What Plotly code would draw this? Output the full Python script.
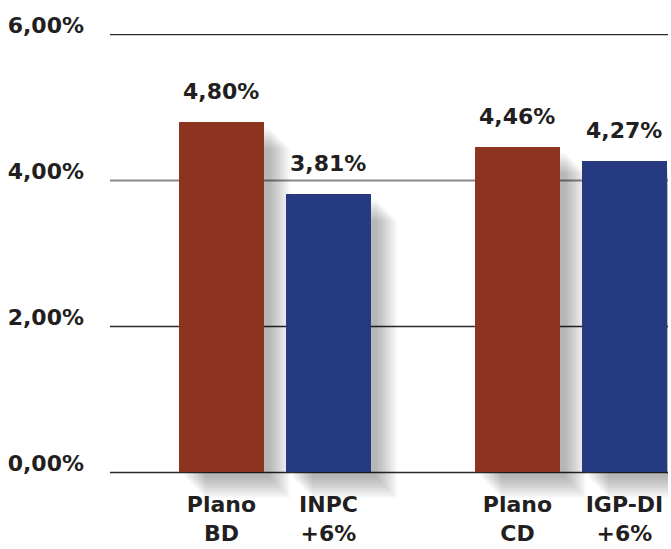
import plotly.graph_objects as go

# ---- data ----
categories = ["Plano<br>BD", "INPC<br>+6%", "Plano<br>CD", "IGP-DI<br>+6%"]
values = [4.80, 3.81, 4.46, 4.27]
value_labels = ["4,80%", "3,81%", "4,46%", "4,27%"]
y_tick_values = [0, 2, 4, 6]
y_tick_labels = ["0,00%", "2,00%", "4,00%", "6,00%"]

RED = "#8c3420"
BLUE = "#263a82"
TEXT = "#231f20"
FONT = "DejaVu Sans"

# layout helpers: two groups of two bars
group = [0, 0, 1, 1]
slot = [0, 1, 0, 1]
GROUP_STEP = 2.766
pos = [g * GROUP_STEP + s for g, s in zip(group, slot)]
colors = [RED if s == 0 else BLUE for s in slot]
BW = 0.794
PX_X = 107.0   # px per x unit
PX_Y = 73.0    # px per y unit

fig = go.Figure()

# soft drop shadows (stack of translucent offset bars)
for d in [6, 8, 10, 12, 14, 16, 18, 20, 22, 24, 26]:
    fig.add_trace(go.Bar(
        x=pos, y=values,
        base=[-d / PX_Y] * len(values),
        offset=-BW / 2 + d / PX_X,
        width=BW,
        marker=dict(color="rgba(0,0,0,0.026)", line=dict(width=0)),
        hoverinfo="skip", showlegend=False,
    ))

# main bars
fig.add_trace(go.Bar(
    x=pos, y=values, width=BW,
    marker=dict(color=colors, line=dict(width=0)),
    showlegend=False,
))

# value labels
for p, v, t in zip(pos, values, value_labels):
    fig.add_annotation(x=p, y=v, text=t, showarrow=False,
                       yanchor="bottom", yshift=16,
                       font=dict(family=FONT, size=22, color=TEXT, weight="bold"))

# gridlines
for tv in y_tick_values:
    col = "#8a8a8a" if tv == 4 else "#2a2a2a"
    w = 2 if tv == 4 else 1.4
    fig.add_shape(type="line", xref="paper", yref="y", x0=0, x1=1, y0=tv, y1=tv,
                  line=dict(color=col, width=w), layer="below")

fig.update_layout(
    width=671, height=549,
    margin=dict(l=110, r=3, t=31, b=51, autoexpand=False),
    paper_bgcolor="white", plot_bgcolor="white",
    barmode="overlay", bargap=0,
    showlegend=False,
    xaxis=dict(
        range=[-1.042, 4.173], automargin=False,
        tickvals=pos, ticktext=categories,
        showgrid=False, zeroline=False, showline=False, ticks="",
        tickfont=dict(family=FONT, size=22, color=TEXT, weight="bold"),
        ticklabelstandoff=-9,
    ),
    yaxis=dict(
        range=[-0.35, 6.05], automargin=False,
        tickvals=y_tick_values, ticktext=y_tick_labels,
        showgrid=False, zeroline=False, showline=False, ticks="",
        tickfont=dict(family=FONT, size=22, color=TEXT, weight="bold"),
        ticklabelstandoff=25, ticklabelshift=-9,
    ),
)

fig.write_html("out.html")
